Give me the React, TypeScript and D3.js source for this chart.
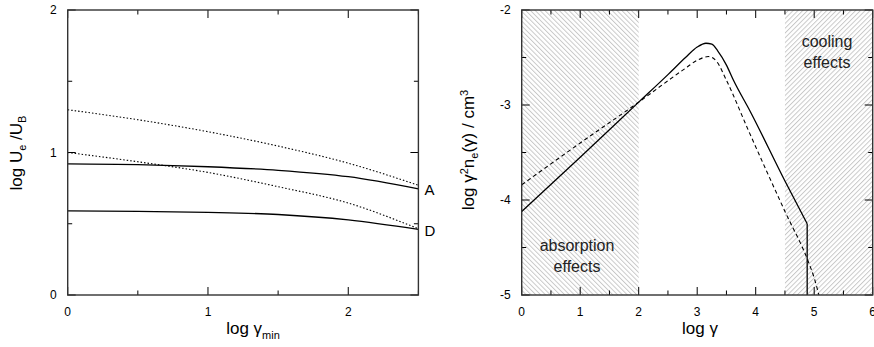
import React, { useEffect, useRef } from 'react';
import * as d3 from 'd3';

const width = 874;
const height = 347;

// left panel: log Ue/UB against log gamma_min
const gammaMin = [0, 0.5, 1, 1.5, 2, 2.5];
const solidA = [0.92, 0.915, 0.9, 0.875, 0.83, 0.745];
const dottedA = [1.3, 1.23, 1.146, 1.045, 0.925, 0.77];
const solidD = [0.59, 0.587, 0.58, 0.565, 0.527, 0.46];
const dottedD = [1.0, 0.935, 0.86, 0.76, 0.645, 0.465];
const leftXTicks = [0, 1, 2];
const leftYTicks = [0, 1, 2];

// right panel: log gamma^2 n_e(gamma) against log gamma
const solidGamma = [0, 1, 2, 2.5, 2.8, 3.0, 3.15, 3.25, 3.35, 3.5, 3.62, 3.9, 4.5, 4.88];
const solidN = [-4.12, -3.55, -2.97, -2.68, -2.5, -2.39, -2.35, -2.36, -2.43, -2.58, -2.74, -3.06, -3.8, -4.25];
const solidCut = 4.88;
const dashedGamma = [0, 1, 2, 2.76, 3.0, 3.19, 3.33, 3.5, 3.87, 4.5, 4.9, 5.0, 5.08];
const dashedN = [-3.84, -3.4, -2.97, -2.63, -2.53, -2.49, -2.54, -2.74, -3.26, -4.12, -4.65, -4.82, -5.0];
const rightXTicks = [0, 1, 2, 3, 4, 5, 6];
const rightYTicks = [-5, -4, -3, -2];
const absorption = [0, 2];
const cooling = [4.5, 6];

const font = "'Liberation Sans', Arial, sans-serif";

function frame(g: any, x: any, y: any, xMajor: number[], yMajor: number[]) {
  const [x0, x1] = x.range();
  const [y0, y1] = y.range();
  const xMinor = d3.range(x.domain()[0], x.domain()[1] + 0.001, 0.5).filter((v) => !xMajor.includes(v));
  const yMinor = d3.range(y.domain()[0], y.domain()[1] + 0.001, 0.5).filter((v) => !yMajor.includes(v));
  const ticks: [number, number, number, number][] = [];
  const add = (vals: number[], len: number) => {
    vals.forEach((v) => {
      ticks.push([x(v), y0, x(v), y0 - len]);
      ticks.push([x(v), y1, x(v), y1 + len]);
    });
  };
  const addY = (vals: number[], len: number) => {
    vals.forEach((v) => {
      ticks.push([x0, y(v), x0 + len, y(v)]);
      ticks.push([x1, y(v), x1 - len, y(v)]);
    });
  };
  add(xMajor, 8);
  add(xMinor, 4.5);
  addY(yMajor, 8);
  addY(yMinor, 4.5);
  g.selectAll('.tick')
    .data(ticks)
    .join('line')
    .attr('x1', (d: any) => d[0])
    .attr('y1', (d: any) => d[1])
    .attr('x2', (d: any) => d[2])
    .attr('y2', (d: any) => d[3])
    .attr('stroke', '#000')
    .attr('stroke-width', 1);
  g.append('rect')
    .attr('x', x0)
    .attr('y', y1)
    .attr('width', x1 - x0)
    .attr('height', y0 - y1)
    .attr('fill', 'none')
    .attr('stroke', '#333')
    .attr('stroke-width', 1.4);
  g.selectAll('.xl')
    .data(xMajor)
    .join('text')
    .attr('x', (d: number) => x(d))
    .attr('y', y0 + 21)
    .attr('text-anchor', 'middle')
    .style('font-size', '12px')
    .text((d: number) => d);
  g.selectAll('.yl')
    .data(yMajor)
    .join('text')
    .attr('x', x0 - 11)
    .attr('y', (d: number) => y(d) + 4)
    .attr('text-anchor', 'end')
    .style('font-size', '12px')
    .text((d: number) => d);
}

export default function App() {
  const ref = useRef<SVGSVGElement>(null);

  useEffect(() => {
    const svg = d3.select(ref.current);
    svg.selectAll('*').remove();
    svg.style('font-family', font);

    const defs = svg.append('defs');
    [['hatchBack', -45], ['hatchFwd', 45]].forEach(([id, rot]) => {
      const p = defs
        .append('pattern')
        .attr('id', id as string)
        .attr('patternUnits', 'userSpaceOnUse')
        .attr('width', 3.4)
        .attr('height', 3.4)
        .attr('patternTransform', `rotate(${rot})`);
      p.append('line')
        .attr('x1', 0.5)
        .attr('y1', 0)
        .attr('x2', 0.5)
        .attr('y2', 3.4)
        .attr('stroke', '#c4c4c4')
        .attr('stroke-width', 0.9);
    });

    // ---- left panel
    const xL = d3.scaleLinear().domain([0, 2.5]).range([67.7, 418.4]);
    const yL = d3.scaleLinear().domain([0, 2]).range([295, 10]);
    const gL = svg.append('g');
    const lineL = d3
      .line<number>()
      .x((d, i) => xL(gammaMin[i]))
      .y((d) => yL(d))
      .curve(d3.curveMonotoneX);
    [
      [solidA, null],
      [solidD, null],
      [dottedA, '1.5,2'],
      [dottedD, '1.5,2'],
    ].forEach(([vals, dash]) => {
      gL.append('path')
        .attr('d', lineL(vals as number[]))
        .attr('fill', 'none')
        .attr('stroke', '#000')
        .attr('stroke-width', dash ? 1.1 : 1.3)
        .attr('stroke-dasharray', dash as any);
    });
    frame(gL, xL, yL, leftXTicks, leftYTicks);
    gL.append('text')
      .attr('x', xL(2.5) + 6)
      .attr('y', yL(solidA[5]) + 6)
      .style('font-size', '15px')
      .text('A');
    gL.append('text')
      .attr('x', xL(2.5) + 6)
      .attr('y', yL(solidD[5]) + 7)
      .style('font-size', '15px')
      .text('D');

    const xt = gL.append('text').attr('x', 253).attr('y', 334).attr('text-anchor', 'middle').style('font-size', '17px');
    xt.append('tspan').text('log γ');
    xt.append('tspan').attr('dy', 5).style('font-size', '11px').text('min');

    const yt = gL
      .append('text')
      .attr('transform', 'translate(22,153) rotate(-90)')
      .attr('text-anchor', 'middle')
      .style('font-size', '17px');
    yt.append('tspan').text('log U');
    yt.append('tspan').attr('dy', 4).style('font-size', '11px').text('e');
    yt.append('tspan').attr('dy', -4).text(' /U');
    yt.append('tspan').attr('dy', 4).style('font-size', '11px').text('B');

    // ---- right panel
    const xR = d3.scaleLinear().domain([0, 6]).range([521.7, 872.7]);
    const yR = d3.scaleLinear().domain([-5, -2]).range([295, 10]);
    const gR = svg.append('g');
    gR.append('clipPath')
      .attr('id', 'clipR')
      .append('rect')
      .attr('x', xR(0))
      .attr('y', yR(-2))
      .attr('width', xR(6) - xR(0))
      .attr('height', yR(-5) - yR(-2));
    const inner = gR.append('g').attr('clip-path', 'url(#clipR)');
    inner
      .append('rect')
      .attr('x', xR(absorption[0]))
      .attr('y', yR(-2))
      .attr('width', xR(absorption[1]) - xR(absorption[0]))
      .attr('height', yR(-5) - yR(-2))
      .attr('fill', 'url(#hatchBack)');
    inner
      .append('rect')
      .attr('x', xR(cooling[0]))
      .attr('y', yR(-2))
      .attr('width', xR(cooling[1]) - xR(cooling[0]))
      .attr('height', yR(-5) - yR(-2))
      .attr('fill', 'url(#hatchFwd)');

    const lineR = (xs: number[]) =>
      d3
        .line<number>()
        .x((d, i) => xR(xs[i]))
        .y((d) => yR(d))
        .curve(d3.curveMonotoneX);
    inner
      .append('path')
      .attr('d', lineR(solidGamma)(solidN))
      .attr('fill', 'none')
      .attr('stroke', '#000')
      .attr('stroke-width', 1.3);
    inner
      .append('line')
      .attr('x1', xR(solidCut))
      .attr('x2', xR(solidCut))
      .attr('y1', yR(solidN[solidN.length - 1]))
      .attr('y2', yR(-5))
      .attr('stroke', '#000')
      .attr('stroke-width', 1.3);
    inner
      .append('path')
      .attr('d', lineR(dashedGamma)(dashedN))
      .attr('fill', 'none')
      .attr('stroke', '#000')
      .attr('stroke-width', 1.1)
      .attr('stroke-dasharray', '4,3');

    frame(gR, xR, yR, rightXTicks, rightYTicks);

    const region = (lines: string[], cx: number, y0: number) => {
      gR.selectAll(null)
        .data(lines)
        .join('text')
        .attr('x', cx)
        .attr('y', (d: string, i: number) => y0 + i * 20.5)
        .attr('text-anchor', 'middle')
        .style('font-size', '16px')
        .attr('fill', '#222')
        .text((d: string) => d);
    };
    region(['absorption', 'effects'], 577, 251);
    region(['cooling', 'effects'], 827, 47);

    const xt2 = gR.append('text').attr('x', 700).attr('y', 334).attr('text-anchor', 'middle').style('font-size', '17px');
    xt2.append('tspan').text('log γ');

    const yt2 = gR
      .append('text')
      .attr('transform', 'translate(474,150) rotate(-90)')
      .attr('text-anchor', 'middle')
      .style('font-size', '17px');
    yt2.append('tspan').text('log  γ');
    yt2.append('tspan').attr('dy', -6).style('font-size', '11px').text('2');
    yt2.append('tspan').attr('dy', 6).text('n');
    yt2.append('tspan').attr('dy', 4).style('font-size', '11px').text('e');
    yt2.append('tspan').attr('dy', -4).text('(γ) / cm');
    yt2.append('tspan').attr('dy', -6).style('font-size', '11px').text('3');
  }, []);

  return (
    <svg
      ref={ref}
      width={width}
      height={height}
      style={{ position: 'absolute', left: 0, top: 0, background: '#fff' }}
    />
  );
}
